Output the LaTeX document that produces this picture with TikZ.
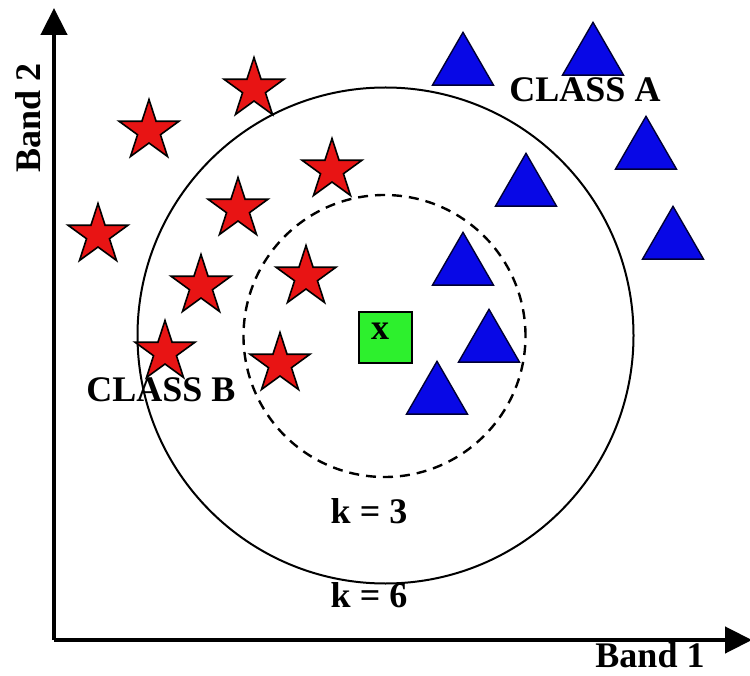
\documentclass[tikz,border=0pt]{standalone}
\usepackage{fontspec}
\setmainfont{Liberation Serif}
\usetikzlibrary{shapes.geometric,arrows.meta}
\definecolor{starred}{RGB}{232,20,20}
\definecolor{triblue}{RGB}{8,8,230}
\definecolor{sqgreen}{RGB}{45,240,45}
\tikzset{
  axisline/.style={line width=4.5pt,-{Triangle[length=27pt,width=26pt]}},
  redstar/.style={star,star points=5,star point ratio=2.618,minimum size=63pt,inner sep=0pt,fill=starred,draw=black,line width=1.6pt},
  bluetri/.style={regular polygon,regular polygon sides=3,minimum size=70.4pt,inner sep=0pt,fill=triblue,draw=black!80!blue,line width=1.4pt},
  lbl/.style={font=\fontsize{36pt}{40pt}\selectfont\bfseries,inner sep=0pt,anchor=base},
  ring/.style={circle,draw=black,inner sep=0pt},
}
\begin{document}
\begin{tikzpicture}[x=1pt,y=-1pt]
\useasboundingbox (0,0) rectangle (750,676);
% circles
\node[ring,line width=2pt,minimum size=496pt] (outer) at (385.5,335.5) {};
\node[ring,line width=2.4pt,dash pattern=on 10pt off 7pt,minimum size=282pt] (inner) at (384.5,336) {};
% axes
\coordinate (corner) at (54,640);
\coordinate (ytip) at (54,8);
\coordinate (xtip) at (752,640);
\draw[axisline] (corner) -- (ytip);
\draw[axisline] (corner) -- (xtip);
% labels
\node[lbl] (band1) at (650,667) {Band 1};
\node[lbl,rotate=90] (band2) at (40,118) {Band 2};
\node[lbl] (classa) at (585,102) {CLASS A};
\node[lbl] (classb) at (161,402) {CLASS B};
\node[lbl] (k3) at (369,523) {k = 3};
\node[lbl] (k6) at (369,607) {k = 6};
% stars
\node[redstar] (s1) at (254,89) {};
\node[redstar] (s2) at (149,131) {};
\node[redstar] (s3) at (332,170) {};
\node[redstar] (s4) at (238,209) {};
\node[redstar] (s5) at (98,235) {};
\node[redstar] (s6) at (306,277) {};
\node[redstar] (s7) at (201,286) {};
\node[redstar] (s8) at (165,352) {};
\node[redstar] (s9) at (280,364) {};
% triangles (centre = apex + 35.2)
\node[bluetri] (t1) at (463,67.5) {};
\node[bluetri] (t2) at (593,57.5) {};
\node[bluetri] (t3) at (646,151.5) {};
\node[bluetri] (t4) at (526,188.5) {};
\node[bluetri] (t5) at (673,241.5) {};
\node[bluetri] (t6) at (463,267.5) {};
\node[bluetri] (t7) at (489,344.5) {};
\node[bluetri] (t8) at (437,396.5) {};
% query point
\node[draw=black,line width=2pt,fill=sqgreen,minimum width=53pt,minimum height=51pt,inner sep=0pt] (sq) at (385,337.5) {};
\node[font=\fontsize{36pt}{40pt}\selectfont\bfseries,inner sep=0pt] (xlab) at (380,331) {x};
\end{tikzpicture}
\end{document}
